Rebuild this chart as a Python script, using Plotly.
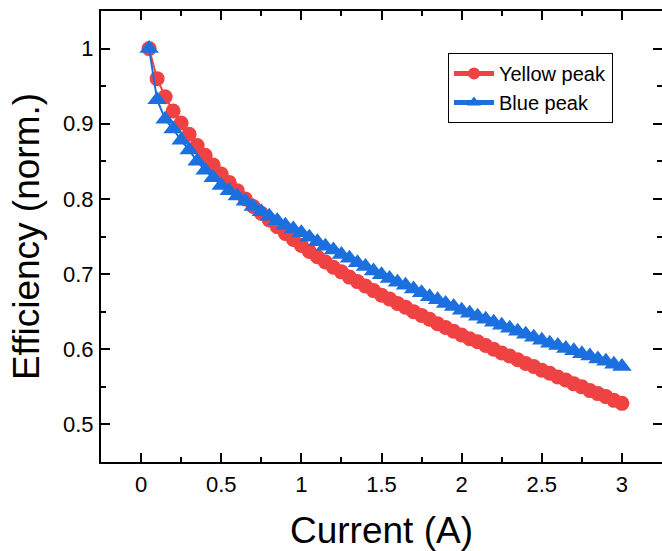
import plotly.graph_objects as go

current = [round(0.05 * i, 2) for i in range(1, 61)]

yellow_peak = [
    1.000, 0.960, 0.936, 0.917, 0.901, 0.886, 0.871, 0.858, 0.845, 0.833,
    0.822, 0.811, 0.800, 0.790, 0.781, 0.772, 0.763, 0.754, 0.746, 0.738,
    0.730, 0.723, 0.716, 0.709, 0.703, 0.696, 0.690, 0.684, 0.678, 0.672,
    0.667, 0.661, 0.656, 0.650, 0.645, 0.640, 0.634, 0.629, 0.624, 0.619,
    0.614, 0.610, 0.605, 0.600, 0.595, 0.591, 0.586, 0.581, 0.577, 0.572,
    0.568, 0.563, 0.559, 0.554, 0.550, 0.545, 0.541, 0.537, 0.532, 0.528,
]

blue_peak = [
    1.000, 0.932, 0.906, 0.893, 0.878, 0.865, 0.850, 0.838, 0.828, 0.818,
    0.811, 0.804, 0.797, 0.790, 0.783, 0.777, 0.771, 0.765, 0.760, 0.755,
    0.749, 0.743, 0.737, 0.732, 0.726, 0.721, 0.715, 0.710, 0.704, 0.699,
    0.694, 0.689, 0.685, 0.680, 0.675, 0.670, 0.666, 0.661, 0.657, 0.652,
    0.648, 0.644, 0.640, 0.636, 0.632, 0.628, 0.624, 0.620, 0.616, 0.612,
    0.608, 0.605, 0.601, 0.598, 0.594, 0.591, 0.587, 0.584, 0.580, 0.577,
]

x_ticks = [0, 0.5, 1, 1.5, 2, 2.5, 3]
x_tick_labels = ["0", "0.5", "1", "1.5", "2", "2.5", "3"]
y_ticks = [0.5, 0.6, 0.7, 0.8, 0.9, 1.0]
y_tick_labels = ["0.5", "0.6", "0.7", "0.8", "0.9", "1"]

RED = "#EF4343"
BLUE = "#1B6FDE"
FONT = "Liberation Sans, Arial, Helvetica, sans-serif"

fig = go.Figure()
fig.add_trace(go.Scatter(
    x=current, y=yellow_peak, name="Yellow peak", mode="lines+markers",
    line=dict(color=RED, width=2),
    marker=dict(symbol="circle", size=15, color=RED),
))
fig.add_trace(go.Scatter(
    x=current, y=blue_peak, name="Blue peak", mode="lines+markers",
    line=dict(color=BLUE, width=2),
    marker=dict(symbol="triangle-up", size=17, color=BLUE),
))

axis_common = dict(
    showgrid=False, zeroline=False, automargin=False,
    showline=True, linecolor="black", linewidth=2,
    mirror="ticks", ticks="inside", ticklen=9, tickwidth=2, tickcolor="black",
    tickfont=dict(family=FONT, size=22, color="black"),
)

fig.update_xaxes(
    range=[-0.25, 3.25], tickvals=x_ticks, ticktext=x_tick_labels,
    minor=dict(ticks="inside", ticklen=5, tickwidth=2, dtick=0.25, tick0=0, tickcolor="black"),
    title=dict(text="Current (A)", font=dict(family=FONT, size=37, color="black"), standoff=30),
    ticklabelstandoff=2,
    **axis_common,
)
fig.update_yaxes(
    range=[0.45, 1.05], tickvals=y_ticks, ticktext=y_tick_labels,
    minor=dict(ticks="inside", ticklen=5, tickwidth=2, dtick=0.05, tick0=0, tickcolor="black"),
    title=dict(text="Efficiency (norm.)", font=dict(family=FONT, size=37, color="black"), standoff=12),
    ticklabelstandoff=1,
    **axis_common,
)

fig.update_layout(
    width=662, height=551,
    margin=dict(l=101, r=0, t=11, b=89),
    paper_bgcolor="white", plot_bgcolor="white",
    font=dict(family=FONT, color="black"),
    legend=dict(
        x=0.6185, y=0.907, xanchor="left", yanchor="top",
        bgcolor="white", bordercolor="black", borderwidth=1,
        font=dict(family=FONT, size=20, color="black"),
        tracegroupgap=0, itemwidth=40, itemsizing="constant",
    ),
    showlegend=True,
)

fig.write_html(
    "out.html",
    config={"displayModeBar": False},
    post_script="document.body.style.margin='0px';document.body.style.padding='0px';",
)
